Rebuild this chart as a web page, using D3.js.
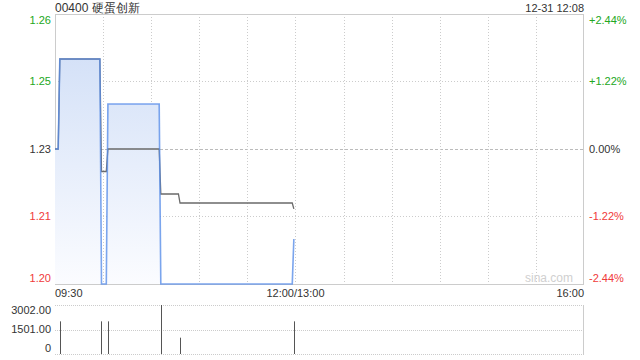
<!DOCTYPE html>
<html><head><meta charset="utf-8">
<script src="https://cdn.jsdelivr.net/npm/d3@7"></script>
<style>
html,body{margin:0;padding:0;background:#fff;}
svg{display:block;font-family:"Liberation Sans",Arial,sans-serif;}
</style></head>
<body>
<svg id="chart" width="640" height="360"></svg>
<script>
// ---- data ----
const title = "00400 硬蛋创新";
const stamp = "12-31 12:08";
const prevClose = 1.23;
const priceTimes = ["09:30","09:32","09:33","09:58","09:59","10:02","10:03","10:35","10:36","11:58","11:59"];
const priceValues = [1.23,1.23,1.25,1.25,1.20,1.20,1.24,1.24,1.20,1.20,1.21];
const avgTimes = ["09:30","09:32","09:33","09:58","09:59","10:02","10:03","10:35","10:36","10:47","10:48","11:58","11:59"];
const avgValues = [1.23,1.23,1.25,1.25,1.225,1.225,1.23,1.23,1.22,1.22,1.218,1.218,1.2167];
const volTimes = ["09:33","09:59","10:03","10:36","10:48","11:59"];
const volValues = [2000,2000,2000,3002,1000,2000];
const priceTicks = [1.26,1.245,1.23,1.215,1.20];
const priceTickLabels = ["1.26","1.25","1.23","1.21","1.20"];
const pctTickLabels = ["+2.44%","+1.22%","0.00%","-1.22%","-2.44%"];
const volTicks = [3002,1501,0];
const volTickLabels = ["3002.00","1501.00","0"];
const timeGrid = ["10:00","10:30","11:00","11:30","12:00","13:30","14:00","14:30","15:00","15:30"];
const timeLabels = [["09:30","start"],["12:00/13:00","middle"],["16:00","end"]];
const timeLabelAt = ["09:30","12:00","16:00"];

// ---- helpers ----
function tmin(s){
  const [h,m]=s.split(":").map(Number);
  let v=h*60+m-570;
  if(h>=13) v-=60;
  return v;
}
const svg = d3.select("#chart");
const L=55,R=584,T=14,B=284, VT=305, VB=354;
const x = d3.scaleLinear().domain([0,330]).range([L,R]);
const y = d3.scaleLinear().domain([1.2,1.26]).range([B,T]);
const yv = d3.scaleLinear().domain([0,3002]).range([VB,VT]);

const green="#22a722", red="#f03a3a", txt="#333";

// gradient
const defs = svg.append("defs");
const g = defs.append("linearGradient").attr("id","fillg").attr("gradientUnits","userSpaceOnUse")
  .attr("x1",0).attr("y1",T).attr("x2",0).attr("y2",B);
g.append("stop").attr("offset","0").attr("stop-color","#cddcf6");
g.append("stop").attr("offset","1").attr("stop-color","#fbfcff");
defs.append("clipPath").attr("id","clip").append("rect").attr("x",L).attr("y",T).attr("width",R-L).attr("height",B-T+1);

// title
svg.append("text").attr("x",L).attr("y",12).attr("font-size",12).attr("fill",txt).text(title);
svg.append("text").attr("x",R).attr("y",12).attr("font-size",11).attr("fill",txt).attr("text-anchor","end").text(stamp);

// grid horizontal
priceTicks.forEach((v,i)=>{
  if(i===0||i===priceTicks.length-1) return;
  svg.append("line").attr("x1",L).attr("x2",R).attr("y1",Math.round(y(v))+0.5).attr("y2",Math.round(y(v))+0.5)
    .attr("stroke", v===prevClose?"#bbb":"#ccc").attr("stroke-dasharray", v===prevClose?"3,2":"1,2");
});
// grid vertical
timeGrid.forEach(t=>{
  const xx=Math.round(x(tmin(t)))+0.5;
  svg.append("line").attr("x1",xx).attr("x2",xx).attr("y1",T).attr("y2",B).attr("stroke","#ccc").attr("stroke-dasharray","1,2");
});

// watermark
svg.append("text").attr("x",R-11).attr("y",B-2).attr("text-anchor","end").attr("font-size",12).attr("fill","#d0d0d0").text("sina.com");

const pdata = priceTimes.map((t,i)=>({t:tmin(t),v:priceValues[i]}));
const adata = avgTimes.map((t,i)=>({t:tmin(t),v:avgValues[i]}));

// frame
svg.append("rect").attr("x",L+0.5).attr("y",T+0.5).attr("width",R-L-1).attr("height",B-T)
  .attr("fill","none").attr("stroke","#ccc");

const plot = svg.append("g").attr("clip-path","url(#clip)");
plot.append("path").datum(pdata)
  .attr("d", d3.area().x(d=>x(d.t)).y0(B).y1(d=>y(d.v)))
  .attr("fill","url(#fillg)");
plot.append("path").datum(adata)
  .attr("d", d3.line().x(d=>x(d.t)).y(d=>y(d.v)))
  .attr("fill","none").attr("stroke","#6a6a6a").attr("stroke-width",1.3);
plot.append("path").datum(pdata)
  .attr("d", d3.line().x(d=>x(d.t)).y(d=>y(d.v)))
  .attr("fill","none").attr("stroke","#5a8ee8").attr("stroke-width",1.6).attr("stroke-opacity",0.8);

// y labels
priceTicks.forEach((v,i)=>{
  const cy = i===0 ? T+6 : (i===priceTicks.length-1 ? B-6 : y(v));
  const col = v>prevClose+1e-9 ? green : (v<prevClose-1e-9 ? red : txt);
  svg.append("text").attr("x",L-4).attr("y",cy).attr("dy","0.35em").attr("text-anchor","end")
    .attr("font-size",11).attr("fill",col).text(priceTickLabels[i]);
  svg.append("text").attr("x",R+5).attr("y",cy).attr("dy","0.35em").attr("text-anchor","start")
    .attr("font-size",11).attr("fill",col).text(pctTickLabels[i]);
});

// time labels
timeLabels.forEach((d,i)=>{
  svg.append("text").attr("x",x(tmin(timeLabelAt[i]))).attr("y",297).attr("text-anchor",d[1])
    .attr("font-size",11).attr("fill",txt).text(d[0]);
});

// volume panel
volTicks.forEach((v,i)=>{
  const yy=Math.round(yv(v))+0.5;
  svg.append("line").attr("x1",L).attr("x2",R).attr("y1",yy).attr("y2",yy).attr("stroke","#ccc").attr("stroke-dasharray","1,1");
  svg.append("text").attr("x",L-4).attr("y",yv(v)+ (i===0?5:(i===2?-6:0))).attr("dy","0.35em").attr("text-anchor","end")
    .attr("font-size",11).attr("fill",txt).text(volTickLabels[i]);
});
svg.append("line").attr("x1",R-0.5).attr("x2",R-0.5).attr("y1",VT).attr("y2",VB+1).attr("stroke","#ccc");
svg.selectAll(".vb").data(volTimes.map((t,i)=>({t:tmin(t),v:volValues[i]}))).enter().append("line")
  .attr("x1",d=>Math.round(x(d.t))+0.5).attr("x2",d=>Math.round(x(d.t))+0.5)
  .attr("y1",VB).attr("y2",d=>yv(d.v)).attr("stroke","#555").attr("stroke-width",1);
</script>
</body></html>
